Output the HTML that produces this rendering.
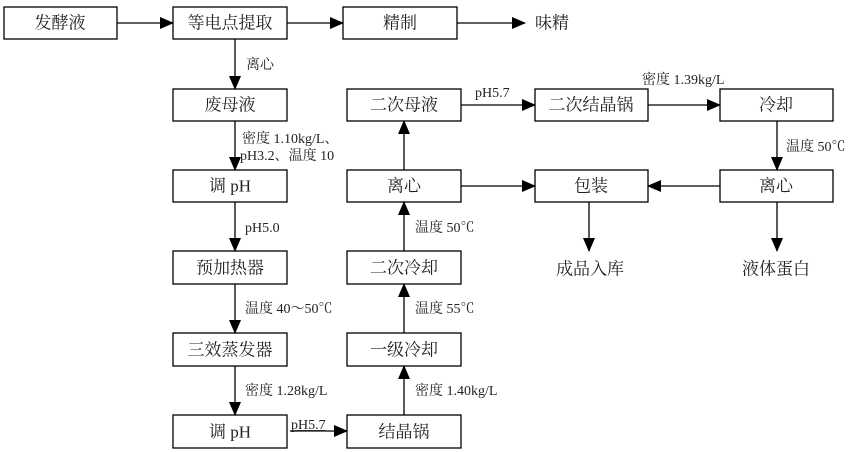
<!DOCTYPE html>
<html><head><meta charset="utf-8"><style>
html,body{margin:0;padding:0;background:#fff;}
svg{display:block;}
text{font-family:"Liberation Serif","Noto Serif CJK SC","Noto Sans CJK SC",serif;fill:#222;}
.b{font-size:17px;text-anchor:middle;dominant-baseline:central;}
.l{font-size:14px;}
rect{fill:#fff;stroke:#000;stroke-width:1.3;}
line{stroke:#000;stroke-width:1.3;}
</style></head><body>
<svg width="854" height="452" viewBox="0 0 854 452" xmlns="http://www.w3.org/2000/svg">
<defs><marker id="a" markerWidth="14" markerHeight="12" refX="13" refY="6" orient="auto" markerUnits="userSpaceOnUse"><path d="M0,0 L14,6 L0,12 z" fill="#000"/></marker></defs>
<rect x="4" y="7" width="113" height="32"/><text class="b" x="60" y="23">发酵液</text>
<rect x="173" y="7" width="114" height="32"/><text class="b" x="230" y="23">等电点提取</text>
<rect x="343" y="7" width="114" height="32"/><text class="b" x="400" y="23">精制</text>
<text class="b" x="552" y="23">味精</text>
<rect x="173" y="89" width="114" height="32"/><text class="b" x="230" y="105">废母液</text>
<rect x="173" y="170" width="114" height="32"/><text class="b" x="230" y="186">调 pH</text>
<rect x="173" y="251" width="114" height="33"/><text class="b" x="230" y="268">预加热器</text>
<rect x="173" y="333" width="114" height="33"/><text class="b" x="230" y="350">三效蒸发器</text>
<rect x="173" y="415" width="114" height="33"/><text class="b" x="230" y="432">调 pH</text>
<rect x="347" y="89" width="114" height="32"/><text class="b" x="404" y="105">二次母液</text>
<rect x="347" y="170" width="114" height="32"/><text class="b" x="404" y="186">离心</text>
<rect x="347" y="251" width="114" height="33"/><text class="b" x="404" y="268">二次冷却</text>
<rect x="347" y="333" width="114" height="33"/><text class="b" x="404" y="350">一级冷却</text>
<rect x="347" y="415" width="114" height="33"/><text class="b" x="404" y="432">结晶锅</text>
<rect x="535" y="89" width="113" height="32"/><text class="b" x="591" y="105">二次结晶锅</text>
<rect x="720" y="89" width="113" height="32"/><text class="b" x="776" y="105">冷却</text>
<rect x="535" y="170" width="113" height="32"/><text class="b" x="591" y="186">包装</text>
<rect x="720" y="170" width="113" height="32"/><text class="b" x="776" y="186">离心</text>
<text class="b" x="590" y="269">成品入库</text>
<text class="b" x="776" y="269">液体蛋白</text>
<line x1="117" y1="23" x2="173" y2="23" marker-end="url(#a)"/>
<line x1="287" y1="23" x2="343" y2="23" marker-end="url(#a)"/>
<line x1="457" y1="23" x2="525" y2="23" marker-end="url(#a)"/>
<line x1="235" y1="39" x2="235" y2="89" marker-end="url(#a)"/>
<line x1="235" y1="121" x2="235" y2="170" marker-end="url(#a)"/>
<line x1="235" y1="202" x2="235" y2="251" marker-end="url(#a)"/>
<line x1="235" y1="284" x2="235" y2="333" marker-end="url(#a)"/>
<line x1="235" y1="366" x2="235" y2="415" marker-end="url(#a)"/>
<line x1="290" y1="431" x2="347" y2="431" marker-end="url(#a)"/>
<line x1="404" y1="415" x2="404" y2="366" marker-end="url(#a)"/>
<line x1="404" y1="333" x2="404" y2="284" marker-end="url(#a)"/>
<line x1="404" y1="251" x2="404" y2="202" marker-end="url(#a)"/>
<line x1="404" y1="170" x2="404" y2="121" marker-end="url(#a)"/>
<line x1="461" y1="105" x2="535" y2="105" marker-end="url(#a)"/>
<line x1="648" y1="105" x2="720" y2="105" marker-end="url(#a)"/>
<line x1="777" y1="121" x2="777" y2="170" marker-end="url(#a)"/>
<line x1="720" y1="186" x2="648" y2="186" marker-end="url(#a)"/>
<line x1="461" y1="186" x2="535" y2="186" marker-end="url(#a)"/>
<line x1="589" y1="202" x2="589" y2="251" marker-end="url(#a)"/>
<line x1="777" y1="202" x2="777" y2="251" marker-end="url(#a)"/>
<text class="l" x="246" y="69">离心</text>
<text class="l" x="242" y="143">密度  1.10kg/L、</text>
<text class="l" x="240" y="160">pH3.2、温度  10</text>
<text class="l" x="245" y="232">pH5.0</text>
<text class="l" x="245" y="313">温度 40～50℃</text>
<text class="l" x="245" y="395">密度 1.28kg/L</text>
<text class="l" x="291" y="429" style="text-decoration:underline">pH5.7</text>
<text class="l" x="415" y="395">密度 1.40kg/L</text>
<text class="l" x="415" y="313">温度 55℃</text>
<text class="l" x="415" y="232">温度 50℃</text>
<text class="l" x="475" y="97">pH5.7</text>
<text class="l" x="642" y="84">密度 1.39kg/L</text>
<text class="l" x="786" y="151">温度 50℃</text>
</svg>
</body></html>
